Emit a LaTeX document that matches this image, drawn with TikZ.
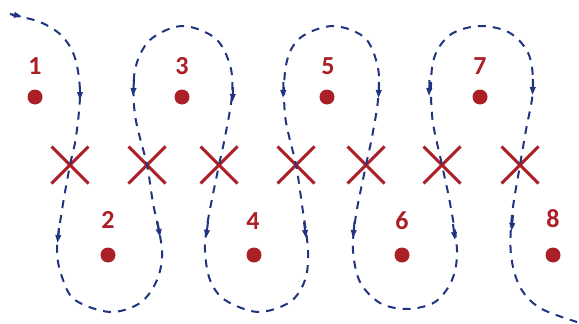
\documentclass[tikz,border=0pt]{standalone}
\usepackage{fontspec}
\setmainfont{Carlito}
\usetikzlibrary{shapes.misc,arrows.meta}
\definecolor{dotred}{RGB}{170,32,38}
\definecolor{pathblue}{RGB}{32,52,128}
\begin{document}
\begin{tikzpicture}[x=1pt,y=-1pt,
  spot/.style={circle,fill=dotred,inner sep=0pt,minimum size=15pt},
  num/.style={text=dotred,font=\fontsize{26}{26}\selectfont\bfseries,inner sep=0pt},
  xmark/.style={cross out,draw=dotred,line width=3pt,inner sep=0pt,minimum size=34pt},
  route/.style={draw=pathblue,line width=2pt,dash pattern=on 8pt off 7pt},
  tip/.style={draw=pathblue,line width=2pt,-{Triangle[length=8pt,width=5.5pt]}}]
\useasboundingbox (0,0) rectangle (579,324);

% dots
\node[spot] (d1) at (35,97) {};
\node[spot] (d3) at (182,97) {};
\node[spot] (d5) at (327,97) {};
\node[spot] (d7) at (480,97) {};
\node[spot] (d2) at (108,255) {};
\node[spot] (d4) at (254,255) {};
\node[spot] (d6) at (402,255) {};
\node[spot] (d8) at (553,255) {};

% numbers
\node[num] (n1) at (35,66) {1};
\node[num] (n3) at (182,66) {3};
\node[num] (n5) at (328,66) {5};
\node[num] (n7) at (480,66) {7};
\node[num] (n2) at (108,220) {2};
\node[num] (n4) at (253,221) {4};
\node[num] (n6) at (402,221) {6};
\node[num] (n8) at (553,219) {8};

% crosses
\node[xmark] (c1) at (70,165) {};
\node[xmark] (c2) at (147,165) {};
\node[xmark] (c3) at (219,165) {};
\node[xmark] (c4) at (296,165) {};
\node[xmark] (c5) at (366,165) {};
\node[xmark] (c6) at (442,165) {};
\node[xmark] (c7) at (520,165) {};

% route
\draw[route] plot[smooth,tension=0.55] coordinates {
  (12,15) (40,22) (62,36) (75,58) (80,93) (76,137) (c1.center)
  (62,210) (57,250) (62,277) (75,300) (110,312) (140,303) (157,280) (162,250) (153,203) (c2.center)
  (135,115) (135,70) (150,40) (182,26) (215,38) (230,65) (232,95) (225,137) (c3.center)
  (208,220) (205,250) (210,280) (225,300) (258,312) (290,302) (305,280) (308,250) (302,205) (c4.center)
  (285,115) (286,65) (300,38) (333,26) (365,38) (378,68) (378,100) (372,137) (c5.center)
  (356,215) (353,250) (360,282) (380,303) (407,309) (435,302) (452,280) (457,250) (450,203) (c6.center)
  (432,115) (433,62) (450,35) (480,26) (510,33) (529,55) (533,90) (526,130) (c7.center)
  (512,215) (511,255) (520,287) (540,308) (577,322)};

% arrowheads
\coordinate (a0s) at (10,14);   \coordinate (a0e) at (22,16.5);
\draw[tip] (a0s) -- (a0e);
\draw[tip] (80,86) -- (80,100);
\draw[tip] (59,228) -- (57.5,243);
\draw[tip] (157.5,222) -- (160,237);
\draw[tip] (134,80) -- (133,96);
\draw[tip] (233,87) -- (232.5,102);
\draw[tip] (208,222) -- (206,238);
\draw[tip] (304,222) -- (306,238);
\draw[tip] (283.5,82) -- (283,98);
\draw[tip] (379,82) -- (378.5,98);
\draw[tip] (354.5,222) -- (353,238);
\draw[tip] (453,224) -- (455,240);
\draw[tip] (429.5,80) -- (429,96);
\draw[tip] (533,79) -- (532.5,95);
\draw[tip] (513,215) -- (511.5,231);
\end{tikzpicture}
\end{document}
